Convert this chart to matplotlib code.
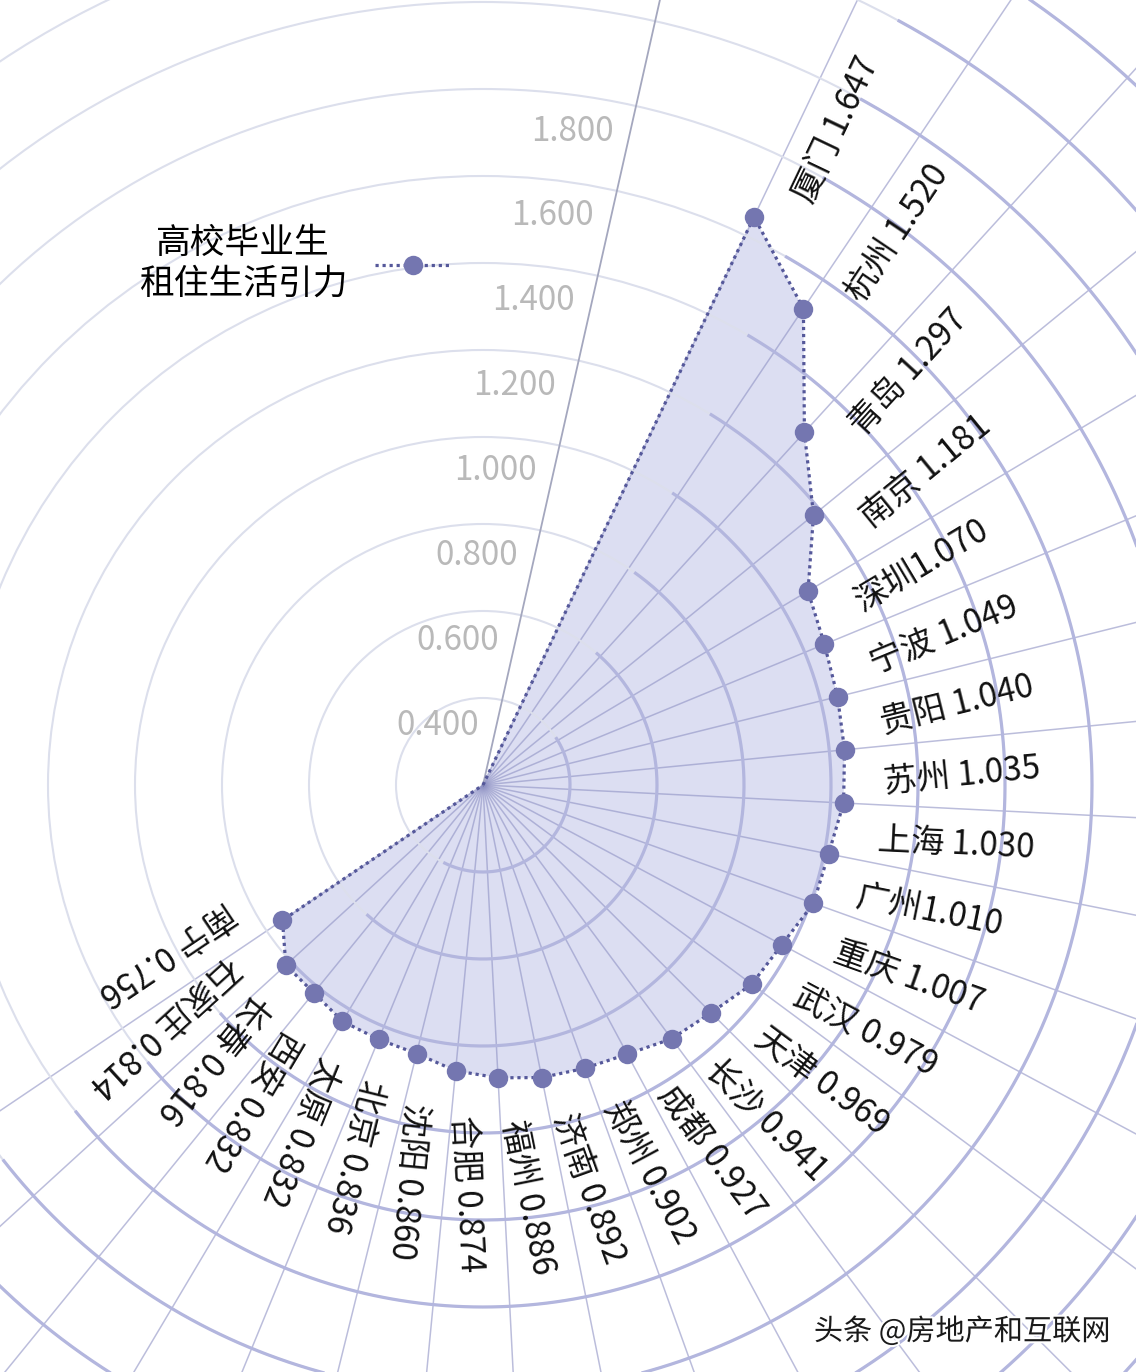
import numpy as np
import matplotlib.pyplot as plt
import matplotlib.patheffects as pe
from matplotlib.lines import Line2D

plt.rcParams['font.family'] = ['Noto Sans CJK SC', 'DejaVu Sans']

cities = ["厦门", "杭州", "青岛", "南京", "深圳", "宁波", "贵阳", "苏州", "上海", "广州",
          "重庆", "武汉", "天津", "长沙", "成都", "郑州", "济南", "福州", "合肥", "沈阳",
          "北京", "太原", "西安", "长春", "石家庄", "南宁"]
values = [1.647, 1.520, 1.297, 1.181, 1.070, 1.049, 1.040, 1.035, 1.030, 1.010,
          1.007, 0.979, 0.969, 0.941, 0.927, 0.902, 0.892, 0.886, 0.874, 0.860,
          0.836, 0.832, 0.832, 0.816, 0.814, 0.756]
no_space = ["深圳", "广州"]          # labels written without a space
r_ticks = [0.4, 0.6, 0.8, 1.0, 1.2, 1.4, 1.6, 1.8]
series_name = "高校毕业生\n租住生活引力"
watermark = "头条 @房地产和互联网"

# layout (pixels)
W, H = 1136, 1372
cx, cy = 483, 785
r_min, r_max = 0.2, 3.0
px_per_unit = 435
start_deg, step_deg = 64.5, 8.42
axis_deg = 77.3

fill_c = '#dcdef2'
point_c = '#7476b0'
line_c = '#55589a'

R = (r_max - r_min) * px_per_unit
fig = plt.figure(figsize=(W / 100, H / 100), dpi=100)
ax = fig.add_axes([(cx - R) / W, (H - cy - R) / H, 2 * R / W, 2 * R / H],
                  projection='polar')
ax.set_ylim(r_min, r_max)
ax.spines['polar'].set_visible(False)

n = len(values)
theta = np.deg2rad(start_deg - step_deg * np.arange(n))

# grid: spokes through each city, light full circles
levels = np.round(np.arange(0.4, r_max + 0.001, 0.2), 1)
ax.set_thetagrids(np.degrees(theta) % 360, labels=[''] * n)
ax.set_rgrids(levels, labels=[''] * len(levels))
ax.xaxis.grid(True, color='#8f92c4', alpha=0.6, lw=1.1)
ax.yaxis.grid(True, color='#dcdfec', lw=1.5)
ax.set_axisbelow('line')
ax.tick_params(length=0)

# filled area from the pole
th_closed = np.r_[theta[0], theta, theta[-1]]
v_closed = np.r_[r_min, values, r_min]
ax.fill(th_closed, v_closed, color=fill_c, lw=0, zorder=1)

# darker arcs over the city sector
d_start, d_end = 45, 42
for lv in levels:
    rp = (lv - r_min) * px_per_unit
    a0 = theta[-1] + np.arcsin(min(1, d_end / rp))
    a1 = theta[0] - np.arcsin(min(1, d_start / rp))
    t = np.linspace(a0, a1, 400)
    ax.plot(t, np.full_like(t, lv), color='#b3b6de', lw=2.3, zorder=1.6,
            solid_capstyle='butt')

# radial axis line
ax.plot([np.deg2rad(axis_deg)] * 2, [r_min, r_max], color='#a4a7be', lw=1.3, zorder=1.7)

# series
ax.plot(th_closed, v_closed, color=line_c, lw=2.3, ls=(0, (1, 1.2)), zorder=3)
ax.plot(theta, values, 'o', ms=14, color=point_c, mec='none', zorder=4)

# city labels
gap, perp = 36, 37
for th, c, v in zip(theta, cities, values):
    sep = '' if c in no_space else ' '
    dx = gap * np.cos(th) + perp * np.sin(th)
    dy = gap * np.sin(th) - perp * np.cos(th)
    ax.annotate(f"{c}{sep}{v:.3f}", xy=(th, v), xytext=(dx * 0.72, dy * 0.72),
                textcoords='offset points', rotation=np.degrees(th),
                rotation_mode='anchor', ha='left', va='center',
                fontsize=24, color='#111111', fontweight='light', zorder=5)

# radial tick labels
for v in r_ticks:
    ax.annotate(f"{v:.3f}", xy=(np.deg2rad(axis_deg), v), xytext=(-64 * 0.72, -25 * 0.72),
                textcoords='offset points', ha='center', va='center',
                fontsize=24, color='#b9b9b9', fontweight='light', zorder=5)

# legend
handle = Line2D([], [], color=line_c, lw=2.3, ls=(0, (1, 1.2)), marker='o', ms=14,
                mfc=point_c, mec='none')
leg = fig.legend([handle], [series_name], loc='center',
                 bbox_to_anchor=(295 / W, 1 - 264 / H), frameon=False,
                 markerfirst=False, handlelength=2.2, handletextpad=0.8,
                 fontsize=25, borderpad=0)
leg.get_texts()[0].set_multialignment('center')

fig.text(1110 / W, 1 - 1332 / H, watermark, ha='right', va='center', fontsize=21,
         color='#1a1a1a', fontweight='medium',
         path_effects=[pe.withStroke(linewidth=3, foreground='white')])

fig.savefig('out.png', dpi=100)
